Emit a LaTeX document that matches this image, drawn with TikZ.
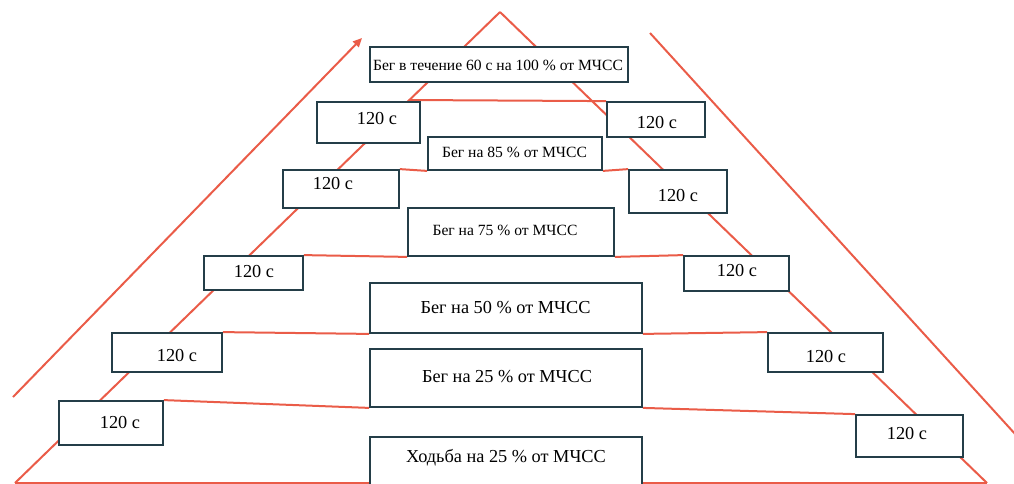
\documentclass[tikz,border=0pt]{standalone}
\usepackage{fontspec}
\setmainfont{Liberation Serif}
\usetikzlibrary{arrows.meta}
\definecolor{pyr}{RGB}{234,92,72}
\definecolor{boxc}{RGB}{36,62,72}
\pgfdeclarelayer{bg}
\pgfsetlayers{bg,main}
\newcommand\bx[5]{\node[box,minimum width={(#4-#2)*1pt},minimum height={(#5-#3)*1pt}] (#1) at ({(#2+#4)/2},{(#3+#5)/2}) {};}
\begin{document}
\begin{tikzpicture}[x=1pt,y=-1pt,
  edge/.style={draw=pyr,line width=2pt},
  box/.style={draw=boxc,line width=1.8pt,fill=white,inner sep=0pt,rectangle},
  big/.style={inner sep=0pt,font=\fontsize{18.3}{20}\selectfont},
  small/.style={inner sep=0pt,font=\fontsize{15.6}{18}\selectfont}]
\useasboundingbox (0,0) rectangle (1014,483);
\clip (0,0) rectangle (1014,483);
% boxes
\bx{Btop}{370}{47}{628}{82}
\bx{L1}{317}{102}{420}{143}
\bx{R1}{607}{102}{705}{137}
\bx{B85}{428}{137}{602}{170}
\bx{L2}{283}{170}{399}{208}
\bx{R2}{629}{170}{727}{213}
\bx{B75}{408}{208}{614}{256}
\bx{L3}{204}{256}{303}{290}
\bx{R3}{684}{256}{789}{291}
\bx{B50}{370}{283}{642}{333}
\bx{L4}{112}{333}{222}{372}
\bx{R4}{768}{333}{883}{372}
\bx{B25}{370}{349}{642}{407}
\bx{L5}{59}{401}{163}{445}
\bx{R5}{856}{415}{963}{457}
\bx{B25w}{370}{437}{642}{492}
% labels
\node[small] (tTop) at (498,65) {Бег в течение 60 с на 100 \% от МЧСС};
\node[small] (t85) at (514.5,152) {Бег на 85 \% от МЧСС};
\node[small] (t75) at (505,230) {Бег на 75 \% от МЧСС};
\node[big] (t50) at (505.5,308) {Бег на 50 \% от МЧСС};
\node[big] (t25) at (507,377) {Бег на 25 \% от МЧСС};
\node[big] (tW) at (506,458) {Ходьба на 25 \% от МЧСС};
\node[big] (tL1) at (377,118) {120 с};
\node[big] (tR1) at (657,122) {120 с};
\node[big] (tL2) at (333,183) {120 с};
\node[big] (tR2) at (678,195) {120 с};
\node[big] (tL3) at (254,271) {120 с};
\node[big] (tR3) at (737,270) {120 с};
\node[big] (tL4) at (177,355) {120 с};
\node[big] (tR4) at (826,356) {120 с};
\node[big] (tL5) at (120,422) {120 с};
\node[big] (tR5) at (907,433) {120 с};
% lines behind
\begin{pgfonlayer}{bg}
\coordinate (apex) at (500,12);
\coordinate (BL) at (15,483);
\coordinate (BR) at (987,483);
\coordinate (h1) at (409,100);
\coordinate (oA) at (13,397);
\coordinate (oB) at (362,38);
\coordinate (oC) at (650,33);
\coordinate (oD) at (1016,435);
\draw[edge] (apex) -- (BL);
\draw[edge] (apex) -- (BR);
\draw[edge] (BL) -- (BR);
\draw[edge] (h1) -- (R1.north west);
\draw[edge] (L2.north east) -- (B85.south west);
\draw[edge] (B85.south east) -- (R2.north west);
\draw[edge] (L3.north east) -- (B75.south west);
\draw[edge] (B75.south east) -- (R3.north west);
\draw[edge] (L4.north east) -- (B50.south west);
\draw[edge] (B50.south east) -- (R4.north west);
\draw[edge] (L5.north east) -- (B25.south west);
\draw[edge] (B25.south east) -- (R5.north west);
\draw[edge,-{Triangle[length=9pt,width=8pt]}] (oA) -- (oB);
\draw[edge] (oC) -- (oD);
\end{pgfonlayer}
\end{tikzpicture}
\end{document}
